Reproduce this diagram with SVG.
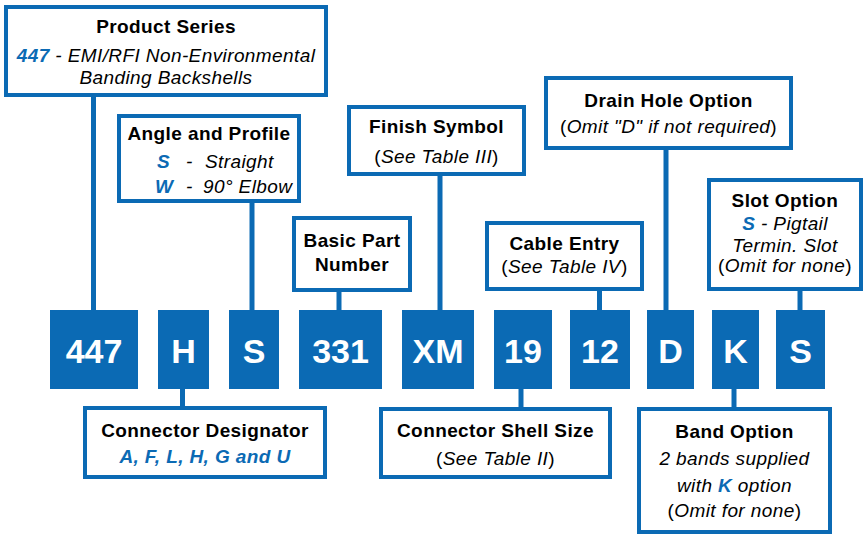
<svg xmlns="http://www.w3.org/2000/svg" width="865" height="535" viewBox="0 0 865 535">
<style>
.box{fill:#fff;stroke:#0b6ab4;stroke-width:4}
.code{fill:#0b6ab4}
.ct{font-family:"Liberation Sans",Arial,sans-serif;font-weight:bold;font-size:34px;fill:#fff;text-anchor:middle}
.t{font-family:"Liberation Sans",Arial,sans-serif;font-weight:bold;font-size:19px;fill:#000;text-anchor:middle;letter-spacing:0.4px}
.d{font-family:"Liberation Sans",Arial,sans-serif;font-style:italic;font-size:19px;fill:#000;text-anchor:middle;letter-spacing:0.4px}
.dl{font-family:"Liberation Sans",Arial,sans-serif;font-style:italic;font-size:19px;fill:#000;letter-spacing:0.4px}
.b{fill:#0b6ab4;font-weight:bold}
.n{font-style:normal}
.ln{stroke:#0b6ab4;stroke-width:5;fill:none}
</style>
<g id="connectors">
<line class="ln" x1="93.5" y1="95" x2="93.5" y2="311"/>
<line class="ln" x1="252" y1="201" x2="252" y2="311"/>
<line class="ln" x1="339" y1="290" x2="339" y2="311"/>
<line class="ln" x1="440" y1="174" x2="440" y2="311"/>
<line class="ln" x1="599.5" y1="289" x2="599.5" y2="311"/>
<line class="ln" x1="666" y1="148" x2="666" y2="311"/>
<line class="ln" x1="800" y1="289" x2="800" y2="311"/>
<line class="ln" x1="182.5" y1="388" x2="182.5" y2="408"/>
<line class="ln" x1="521" y1="388" x2="521" y2="409"/>
<line class="ln" x1="734" y1="388" x2="734" y2="409"/>
</g>
<g id="code-447"><rect class="code" x="50" y="310" width="88" height="79"/><text class="ct" x="94" y="363">447</text></g>
<g id="code-H"><rect class="code" x="158" y="310" width="51" height="79"/><text class="ct" x="183.5" y="363">H</text></g>
<g id="code-S1"><rect class="code" x="229" y="310" width="50" height="79"/><text class="ct" x="254" y="363">S</text></g>
<g id="code-331"><rect class="code" x="299" y="310" width="83" height="79"/><text class="ct" x="340.5" y="363">331</text></g>
<g id="code-XM"><rect class="code" x="402" y="310" width="72" height="79"/><text class="ct" x="438" y="363">XM</text></g>
<g id="code-19"><rect class="code" x="494" y="310" width="58" height="79"/><text class="ct" x="523" y="363">19</text></g>
<g id="code-12"><rect class="code" x="570" y="310" width="60" height="79"/><text class="ct" x="600" y="363">12</text></g>
<g id="code-D"><rect class="code" x="647" y="310" width="47" height="79"/><text class="ct" x="670.5" y="363">D</text></g>
<g id="code-K"><rect class="code" x="712" y="310" width="47" height="79"/><text class="ct" x="735.5" y="363">K</text></g>
<g id="code-S2"><rect class="code" x="776" y="310" width="49" height="79"/><text class="ct" x="800.5" y="363">S</text></g>

<g id="product-series"><rect class="box" x="6" y="7" width="320" height="88"/>
<text class="t" x="166" y="33">Product Series</text>
<text class="d" x="166" y="62"><tspan class="b">447</tspan> - EMI/RFI Non-Environmental</text>
<text class="d" x="166" y="84">Banding Backshells</text></g>

<g id="angle-profile"><rect class="box" x="119" y="116" width="180" height="85"/>
<text class="t" x="209" y="140">Angle and Profile</text>
<text class="dl" x="157" y="168"><tspan class="b">S</tspan></text><text class="dl" x="186" y="168">-</text><text class="dl" x="205" y="168">Straight</text>
<text class="dl" x="155" y="193"><tspan class="b">W</tspan></text><text class="dl" x="186" y="193">-</text><text class="dl" x="203" y="193">90° Elbow</text></g>

<g id="finish-symbol"><rect class="box" x="349" y="107" width="175" height="67"/>
<text class="t" x="436.5" y="133">Finish Symbol</text>
<text class="d" x="436.5" y="163"><tspan class="n">(</tspan>See Table III<tspan class="n">)</tspan></text></g>

<g id="basic-part"><rect class="box" x="294" y="218" width="116" height="72"/>
<text class="t" x="352" y="247">Basic Part</text>
<text class="t" x="352" y="271">Number</text></g>

<g id="cable-entry"><rect class="box" x="487" y="223" width="155" height="66"/>
<text class="t" x="564.5" y="250">Cable Entry</text>
<text class="d" x="564.5" y="273"><tspan class="n">(</tspan>See Table IV<tspan class="n">)</tspan></text></g>

<g id="drain-hole"><rect class="box" x="546" y="78" width="245" height="70"/>
<text class="t" x="668.5" y="107">Drain Hole Option</text>
<text class="d" x="668.5" y="133"><tspan class="n">(</tspan>Omit "D" if not required<tspan class="n">)</tspan></text></g>

<g id="slot-option"><rect class="box" x="709" y="180" width="152" height="109"/>
<text class="t" x="785" y="207">Slot Option</text>
<text class="d" x="785" y="230"><tspan class="b">S</tspan> - Pigtail</text>
<text class="d" x="785" y="252">Termin. Slot</text>
<text class="d" x="785" y="272"><tspan class="n">(</tspan>Omit for none<tspan class="n">)</tspan></text></g>

<g id="connector-designator"><rect class="box" x="85" y="408" width="240" height="69"/>
<text class="t" x="205" y="437">Connector Designator</text>
<text class="d" x="205" y="463"><tspan class="b">A, F, L, H, G and U</tspan></text></g>

<g id="shell-size"><rect class="box" x="381" y="409" width="229" height="68"/>
<text class="t" x="495.5" y="437">Connector Shell Size</text>
<text class="d" x="495.5" y="465"><tspan class="n">(</tspan>See Table II<tspan class="n">)</tspan></text></g>

<g id="band-option"><rect class="box" x="639" y="409" width="191" height="123"/>
<text class="t" x="734.5" y="438">Band Option</text>
<text class="d" x="734.5" y="465">2 bands supplied</text>
<text class="d" x="734.5" y="492">with <tspan class="b">K</tspan> option</text>
<text class="d" x="734.5" y="517"><tspan class="n">(</tspan>Omit for none<tspan class="n">)</tspan></text></g>
</svg>
